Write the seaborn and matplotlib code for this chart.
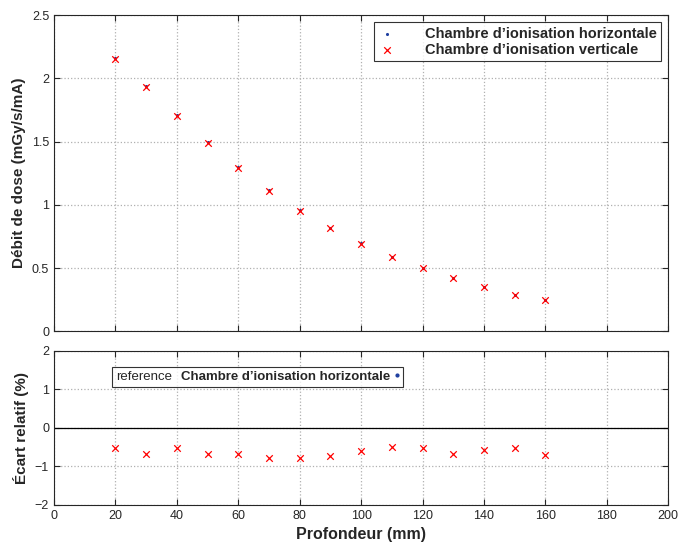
import pandas as pd
import matplotlib.pyplot as plt
import seaborn as sns
from matplotlib.lines import Line2D

# depth (mm) and measured dose rate for the two chamber orientations
profondeur = [20, 30, 40, 50, 60, 70, 80, 90, 100, 110, 120, 130, 140, 150, 160]
debit_horizontale = [2.16, 1.94, 1.71, 1.50, 1.30, 1.12, 0.96, 0.82, 0.70, 0.59, 0.50, 0.42, 0.35, 0.29, 0.25]
debit_verticale = [2.15, 1.93, 1.70, 1.49, 1.29, 1.11, 0.95, 0.815, 0.69, 0.585, 0.50, 0.42, 0.35, 0.29, 0.25]
# relative difference vertical vs horizontal (%)
ecart = [-0.52, -0.68, -0.53, -0.68, -0.69, -0.78, -0.77, -0.72, -0.61, -0.50, -0.51, -0.68, -0.58, -0.51, -0.71]

lab_h = "Chambre d\u2019ionisation horizontale"
lab_v = "Chambre d\u2019ionisation verticale"

df = pd.DataFrame({"prof": profondeur, "h": debit_horizontale, "v": debit_verticale, "ecart": ecart})

sns.set_style("ticks")
plt.rcParams['font.family'] = ['Liberation Sans', 'DejaVu Sans']
plt.rcParams['xtick.direction'] = 'in'
plt.rcParams['ytick.direction'] = 'in'
plt.rcParams['axes.linewidth'] = 0.8

fig = plt.figure(figsize=(6.78, 5.43), dpi=100)
ax1 = fig.add_axes([0.0796, 0.390, 0.906, 0.582])
ax2 = fig.add_axes([0.0796, 0.070, 0.906, 0.284])

grid_kw = dict(color='#b0b0b0', linestyle=':', linewidth=0.9)

# top panel
sns.scatterplot(data=df, x="prof", y="h", ax=ax1, color='#1f3fa0', marker='o', s=5,
                linewidth=0, label=lab_h, zorder=3)
sns.scatterplot(data=df, x="prof", y="v", ax=ax1, color='red', marker='x', s=22,
                linewidth=0.9, label=lab_v, zorder=4)
ax1.set_xlim(0, 200)
ax1.set_ylim(0, 2.5)
ax1.set_xticks(range(0, 201, 20))
ax1.set_xticklabels([])
ax1.set_yticks([0, 0.5, 1, 1.5, 2, 2.5])
ax1.set_yticklabels(["0", "0.5", "1", "1.5", "2", "2.5"])
ax1.set_xlabel("")
ax1.set_ylabel("Débit de dose (mGy/s/mA)", fontsize=11, fontweight='bold')
ax1.grid(True, **grid_kw)
ax1.tick_params(labelsize=9, top=True, right=True, length=4)
leg1 = ax1.legend(loc='upper right', fontsize=10.5, frameon=True, fancybox=False,
                  edgecolor='black', borderaxespad=0.5, handletextpad=2.0,
                  borderpad=0.3, labelspacing=0.15, handlelength=1.2)
leg1.get_frame().set_linewidth(0.8)
for t in leg1.get_texts():
    t.set_fontweight('bold')

# bottom panel
sns.scatterplot(data=df, x="prof", y="ecart", ax=ax2, color='red', marker='x', s=22,
                linewidth=0.9, zorder=4)
ax2.axhline(0, color='black', linewidth=0.9)
ax2.set_xlim(0, 200)
ax2.set_ylim(-2, 2)
ax2.set_xticks(range(0, 201, 20))
ax2.set_yticks([-2, -1, 0, 1, 2])
ax2.set_xlabel("Profondeur (mm)", fontsize=11.5, fontweight='bold')
ax2.set_ylabel("Écart relatif (%)", fontsize=11, fontweight='bold')
ax2.grid(True, **grid_kw)
ax2.tick_params(labelsize=9, top=True, right=True, length=4)

blank = Line2D([], [], linestyle='none')
dot = Line2D([], [], linestyle='none', marker='o', markersize=2, color='#1f3fa0')
leg2 = ax2.legend([blank, dot], ["reference", lab_h], ncol=2, loc='center left',
                  bbox_to_anchor=(0.094, 0.83), markerfirst=False, fontsize=9.5,
                  frameon=True, fancybox=False, edgecolor='black', borderpad=0.3,
                  handlelength=0.4, handletextpad=0.3, columnspacing=0.0,
                  borderaxespad=0)
leg2.get_frame().set_linewidth(0.8)
leg2.get_texts()[1].set_fontweight('bold')

fig.savefig("out.png", dpi=100)
